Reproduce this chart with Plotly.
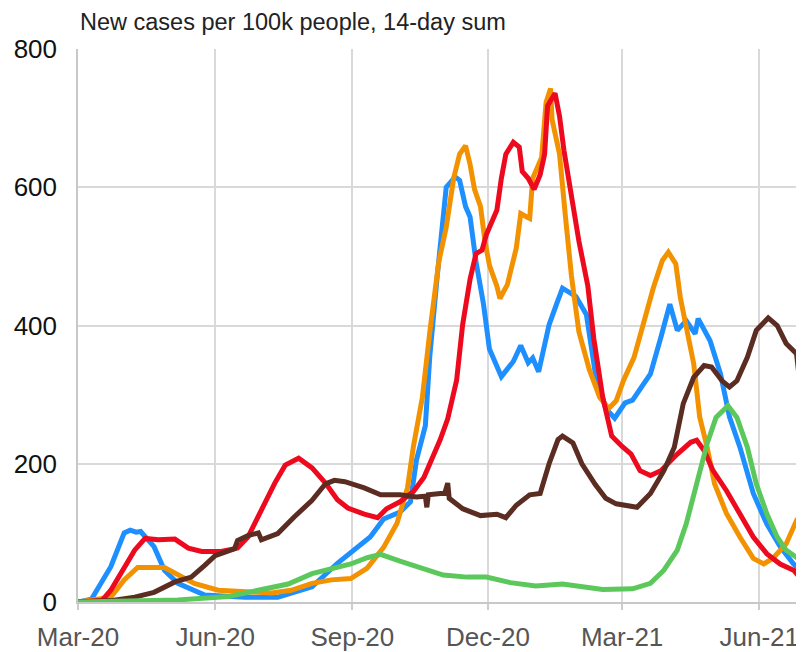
import plotly.graph_objects as go

# 1. Datos (casos nuevos por 100k, suma de 14 días)
blue_dates = ["2020-03-01", "2020-03-10", "2020-03-23", "2020-04-01", "2020-04-05", "2020-04-09",
              "2020-04-12", "2020-04-21", "2020-04-28", "2020-05-07", "2020-05-25", "2020-06-21",
              "2020-07-13", "2020-08-05", "2020-08-22", "2020-08-31", "2020-09-13", "2020-09-22",
              "2020-10-03", "2020-10-10", "2020-10-14", "2020-10-20", "2020-10-23", "2020-10-28",
              "2020-11-01", "2020-11-03", "2020-11-09", "2020-11-12", "2020-11-16", "2020-11-19",
              "2020-11-23", "2020-11-28", "2020-12-02", "2020-12-10", "2020-12-18", "2020-12-23",
              "2020-12-28", "2020-12-31", "2021-01-04", "2021-01-11", "2021-01-16", "2021-01-20",
              "2021-01-29", "2021-02-05", "2021-02-11", "2021-02-18", "2021-02-24", "2021-03-03",
              "2021-03-08", "2021-03-20", "2021-03-27", "2021-04-02", "2021-04-07", "2021-04-13",
              "2021-04-19", "2021-04-21", "2021-04-29", "2021-05-06", "2021-05-12", "2021-05-19",
              "2021-05-28", "2021-06-06", "2021-06-15", "2021-06-24", "2021-06-30"]
blue_vals = [0, 4, 51, 100, 104, 101, 102, 80, 46, 27, 10, 7, 7, 22, 56, 72, 94, 120, 130, 145,
             205, 255, 356, 472, 557, 600, 615, 610, 572, 557, 492, 431, 366, 326, 348, 371, 346,
             353, 333, 401, 431, 454, 442, 416, 331, 280, 266, 288, 292, 330, 383, 431, 393, 407,
             388, 410, 378, 330, 268, 224, 157, 113, 80, 55, 43]

orange_dates = ["2020-03-01", "2020-03-23", "2020-04-01", "2020-04-10", "2020-04-28", "2020-05-07",
                "2020-05-18", "2020-06-03", "2020-06-21", "2020-07-09", "2020-07-22", "2020-08-05",
                "2020-08-18", "2020-08-31", "2020-09-11", "2020-09-22", "2020-10-01", "2020-10-08",
                "2020-10-12", "2020-10-18", "2020-10-23", "2020-10-29", "2020-11-03", "2020-11-08",
                "2020-11-12", "2020-11-16", "2020-11-19", "2020-11-22", "2020-11-26", "2020-11-29",
                "2020-12-02", "2020-12-07", "2020-12-09", "2020-12-14", "2020-12-20", "2020-12-23",
                "2020-12-27", "2020-12-29", "2020-12-31", "2021-01-06", "2021-01-09", "2021-01-12",
                "2021-01-13", "2021-01-18", "2021-01-22", "2021-01-26", "2021-01-31", "2021-02-07",
                "2021-02-14", "2021-02-20", "2021-02-25", "2021-03-02", "2021-03-09", "2021-03-15",
                "2021-03-22", "2021-03-28", "2021-04-01", "2021-04-06", "2021-04-09", "2021-04-13",
                "2021-04-18", "2021-04-22", "2021-04-27", "2021-05-02", "2021-05-10", "2021-05-19",
                "2021-05-28", "2021-06-04", "2021-06-10", "2021-06-19", "2021-06-26", "2021-06-29"]
orange_vals = [0, 7, 32, 50, 50, 39, 27, 17, 15, 13, 17, 27, 32, 34, 49, 79, 114, 165, 225, 296,
               391, 492, 542, 613, 648, 660, 633, 597, 572, 522, 487, 457, 439, 459, 512, 562, 557,
               555, 613, 643, 723, 743, 698, 648, 557, 472, 391, 336, 296, 280, 291, 321, 354, 402,
               455, 494, 506, 489, 441, 398, 345, 268, 224, 171, 128, 94, 63, 55, 63, 84, 118, 116]

red_dates = ["2020-03-01", "2020-03-17", "2020-03-23", "2020-04-01", "2020-04-08", "2020-04-15",
             "2020-04-24", "2020-05-05", "2020-05-14", "2020-05-23", "2020-06-05", "2020-06-16",
             "2020-06-23", "2020-07-02", "2020-07-11", "2020-07-18", "2020-07-27", "2020-08-05",
             "2020-08-14", "2020-08-22", "2020-08-29", "2020-09-09", "2020-09-18", "2020-09-24",
             "2020-10-03", "2020-10-12", "2020-10-19", "2020-10-23", "2020-10-30", "2020-11-04",
             "2020-11-10", "2020-11-14", "2020-11-19", "2020-11-23", "2020-11-27", "2020-11-30",
             "2020-12-07", "2020-12-10", "2020-12-13", "2020-12-18", "2020-12-22", "2020-12-24",
             "2020-12-28", "2021-01-01", "2021-01-05", "2021-01-08", "2021-01-10", "2021-01-15",
             "2021-01-18", "2021-01-21", "2021-01-26", "2021-01-31", "2021-02-06", "2021-02-10",
             "2021-02-16", "2021-02-22", "2021-03-01", "2021-03-07", "2021-03-13", "2021-03-20",
             "2021-03-27", "2021-04-07", "2021-04-16", "2021-04-20", "2021-04-25", "2021-05-01",
             "2021-05-10", "2021-05-19", "2021-05-28", "2021-06-06", "2021-06-15", "2021-06-24",
             "2021-06-29"]
red_vals = [0, 2, 17, 51, 75, 92, 90, 91, 78, 73, 73, 78, 94, 133, 172, 198, 208, 194, 172, 148,
            136, 127, 122, 135, 145, 160, 180, 200, 235, 265, 321, 401, 467, 504, 509, 532, 567,
            613, 648, 665, 658, 623, 613, 597, 618, 648, 718, 736, 703, 653, 582, 522, 457, 381,
            296, 240, 225, 214, 190, 183, 190, 214, 231, 234, 219, 190, 161, 128, 94, 70, 55, 46, 34]

brown_dates = ["2020-03-01", "2020-03-23", "2020-04-08", "2020-04-21", "2020-05-05", "2020-05-16",
               "2020-05-25", "2020-06-01", "2020-06-14", "2020-06-16", "2020-06-23", "2020-06-30",
               "2020-07-02", "2020-07-13", "2020-07-24", "2020-08-05", "2020-08-14", "2020-08-20",
               "2020-08-27", "2020-09-05", "2020-09-09", "2020-09-20", "2020-10-03", "2020-10-14",
               "2020-10-20", "2020-10-21", "2020-10-22", "2020-10-30", "2020-11-02", "2020-11-04",
               "2020-11-05", "2020-11-14", "2020-11-26", "2020-12-07", "2020-12-13", "2020-12-20",
               "2020-12-29", "2021-01-05", "2021-01-11", "2021-01-17", "2021-01-20", "2021-01-27",
               "2021-02-02", "2021-02-11", "2021-02-18", "2021-02-25", "2021-03-02", "2021-03-11",
               "2021-03-20", "2021-03-29", "2021-04-05", "2021-04-11", "2021-04-18", "2021-04-25",
               "2021-04-30", "2021-05-07", "2021-05-12", "2021-05-17", "2021-05-24", "2021-05-30",
               "2021-06-07", "2021-06-13", "2021-06-19", "2021-06-26", "2021-06-28", "2021-06-29"]
brown_vals = [0, 2, 7, 14, 29, 36, 53, 67, 77, 89, 96, 100, 90, 99, 123, 147, 171, 176, 174, 169,
              165, 155, 155, 152, 153, 137, 155, 157, 157, 172, 150, 135, 125, 127, 122, 140, 155,
              157, 200, 235, 240, 230, 200, 170, 150, 142, 140, 137, 157, 190, 224, 287, 325, 342,
              340, 320, 311, 320, 354, 393, 411, 400, 374, 359, 320, 258]

green_dates = ["2020-03-01", "2020-05-07", "2020-06-10", "2020-07-02", "2020-07-20", "2020-08-05",
               "2020-08-18", "2020-08-31", "2020-09-11", "2020-09-20", "2020-10-03", "2020-10-19",
               "2020-11-01", "2020-11-17", "2020-11-30", "2020-12-16", "2021-01-02", "2021-01-20",
               "2021-02-02", "2021-02-16", "2021-03-08", "2021-03-20", "2021-03-29", "2021-04-07",
               "2021-04-13", "2021-04-20", "2021-04-27", "2021-05-03", "2021-05-11", "2021-05-17",
               "2021-05-24", "2021-05-30", "2021-06-06", "2021-06-13", "2021-06-19", "2021-06-29"]
green_vals = [0, 3, 8, 17, 26, 41, 48, 55, 64, 69, 59, 49, 39, 36, 36, 28, 23, 26, 23, 18, 19, 27,
              46, 75, 113, 171, 229, 267, 284, 267, 224, 171, 128, 94, 75, 60]

y_ticks = [0, 200, 400, 600, 800]

# 2. Figura
series = [
    (blue_dates, blue_vals, '#1E8FFF'),
    (orange_dates, orange_vals, '#F39200'),
    (red_dates, red_vals, '#ED0A1E'),
    (brown_dates, brown_vals, '#5B2D22'),
    (green_dates, green_vals, '#5CC85C'),
]

fig = go.Figure()
for dates, vals, color in series:
    fig.add_trace(go.Scatter(x=dates, y=vals, mode='lines',
                             line=dict(color=color, width=5), showlegend=False))

# la página tiene 8px de margen en el body: figura algo más pequeña
fig.update_layout(
    width=796,
    height=644,
    margin=dict(l=70, r=0, t=41, b=50),
    plot_bgcolor='white',
    paper_bgcolor='white',
    font=dict(family='Liberation Sans, Arial, sans-serif', size=26, color='#111'),
    annotations=[dict(
        x=0, y=1, xref='paper', yref='paper',
        xanchor='left', yanchor='bottom', yshift=12,
        text='New cases per 100k people, 14-day sum', showarrow=False,
        font=dict(size=23.5, color='#222')
    )]
)

fig.update_xaxes(
    type='date',
    range=['2020-03-01', '2021-07-01'],
    tick0='2020-03-01', dtick='M3', tickformat='%b-%y',
    showgrid=True, gridcolor='#d9d9d9', gridwidth=1.5,
    ticks='outside', ticklen=6, tickcolor='#cccccc', tickwidth=1.5,
    ticklabelstandoff=5,
    showline=True, linecolor='#c8c8c8', linewidth=1.5,
    tickfont=dict(size=26, color='#555'),
    zeroline=False
)
fig.update_yaxes(
    range=[0, 800], tickvals=y_ticks,
    showgrid=True, gridcolor='#d9d9d9', gridwidth=1.5,
    ticks='outside', ticklen=14, tickcolor='rgba(0,0,0,0)',
    showline=True, linecolor='#c8c8c8', linewidth=1.5,
    tickfont=dict(size=26, color='#111'),
    zeroline=False
)

fig.write_html('out.html')
